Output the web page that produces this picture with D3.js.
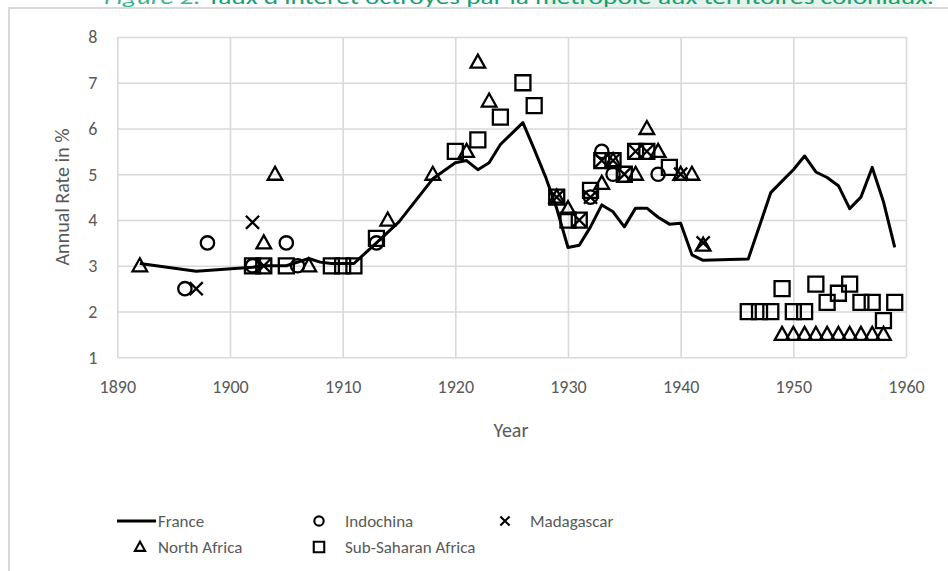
<!DOCTYPE html>
<html>
<head>
<meta charset="utf-8">
<script src="https://cdn.jsdelivr.net/npm/d3@7"></script>
<style>
body { margin: 0; background: #fff; }
svg { display: block; font-family: Carlito, Lato, sans-serif; }
</style>
</head>
<body>
<svg width="948" height="571"></svg>
<script>
var titleText = "Taux d'intérêt octroyés par la métropole aux territoires coloniaux.";

var xTicks = [1890, 1900, 1910, 1920, 1930, 1940, 1950, 1960];
var yTicks = [1, 2, 3, 4, 5, 6, 7, 8];

var franceYears = [1892, 1897, 1902, 1903, 1905, 1907, 1908, 1909, 1911, 1913, 1915, 1918, 1920, 1921, 1922, 1923, 1924, 1926,
    1927, 1928, 1929, 1930, 1931, 1932, 1933, 1934, 1935, 1936, 1937, 1938, 1939, 1940, 1941, 1942, 1946,
    1948, 1949, 1950, 1951, 1952, 1953, 1954, 1955, 1956, 1957, 1958, 1959];
var franceRates = [3.05, 2.88, 2.97, 3.0, 3.0, 3.16, 3.08, 3.05, 3.05, 3.5, 3.96, 4.9, 5.25, 5.3, 5.1, 5.25, 5.65, 6.13,
    5.55, 4.95, 4.25, 3.4, 3.45, 3.85, 4.33, 4.18, 3.85, 4.26, 4.26, 4.06, 3.91, 3.93, 3.24, 3.12, 3.15,
    4.6, 4.85, 5.1, 5.4, 5.05, 4.93, 4.75, 4.25, 4.5, 5.15, 4.4, 3.4];

var indochinaYears = [1896, 1898, 1902, 1905, 1906, 1913, 1932, 1933, 1934, 1938];
var indochinaRates = [2.5, 3.5, 3.0, 3.5, 3.0, 3.5, 4.5, 5.5, 5.0, 5.0];

var madagascarYears = [1897, 1902, 1903, 1929, 1931, 1932, 1933, 1934, 1935, 1936, 1937, 1940, 1942];
var madagascarRates = [2.5, 3.95, 3.0, 4.5, 4.0, 4.5, 5.3, 5.3, 5.0, 5.5, 5.5, 5.0, 3.5];

var northAfricaYears = [1892, 1903, 1904, 1907, 1914, 1918, 1921, 1922, 1923, 1929, 1930, 1933, 1934, 1936, 1937, 1938,
    1940, 1941, 1942, 1949, 1950, 1951, 1952, 1953, 1954, 1955, 1956, 1957, 1958];
var northAfricaRates = [3.0, 3.5, 5.0, 3.0, 4.0, 5.0, 5.5, 7.45, 6.6, 4.5, 4.25, 4.8, 5.3, 5.0, 6.0, 5.5,
    5.0, 5.0, 3.45, 1.5, 1.5, 1.5, 1.5, 1.5, 1.5, 1.5, 1.5, 1.5, 1.5];

var subSaharanYears = [1902, 1903, 1905, 1909, 1910, 1911, 1913, 1920, 1922, 1924, 1926, 1927, 1929, 1930, 1931, 1932,
    1933, 1934, 1935, 1936, 1937, 1939, 1946, 1947, 1948, 1949, 1950, 1951, 1952, 1953, 1954, 1955,
    1956, 1957, 1958, 1959];
var subSaharanRates = [3.0, 3.0, 3.0, 3.0, 3.0, 3.0, 3.6, 5.5, 5.75, 6.25, 7.0, 6.5, 4.5, 4.0, 4.0, 4.65,
    5.3, 5.3, 5.0, 5.5, 5.5, 5.15, 2.0, 2.0, 2.0, 2.5, 2.0, 2.0, 2.6, 2.2, 2.4, 2.6,
    2.2, 2.2, 1.8, 2.2];

var grey = '#595959';
var gridColor = '#d9d9d9';

var svg = d3.select('svg');

var x = d3.scaleLinear().domain([1890, 1960]).range([117.3, 906]);
var y = d3.scaleLinear().domain([1, 8]).range([357.3, 37]);

function zip(years, rates) {
    return years.map(function (d, i) { return { year: d, rate: rates[i] }; });
}

// clipped title strip on top
svg.append('rect')
    .attr('x', 547).attr('y', 0).attr('width', 382).attr('height', 7)
    .attr('fill', '#e6f3ed');
var title = svg.append('text')
    .attr('x', 104).attr('y', 4)
    .attr('textLength', 830)
    .attr('lengthAdjust', 'spacingAndGlyphs')
    .attr('font-size', 21)
    .attr('fill', '#16a070');
title.append('tspan').attr('font-style', 'italic').attr('fill', '#3bb58c').text('Figure 2: ');
title.append('tspan').text(titleText);

// chart border
svg.append('path')
    .attr('d', 'M9,571V8H948')
    .attr('fill', 'none')
    .attr('stroke', gridColor)
    .attr('stroke-width', 2);

// grid
svg.append('g')
    .attr('transform', 'translate(' + x.range()[0] + ',0)')
    .call(d3.axisLeft(y).tickValues(yTicks).tickSize(-(x.range()[1] - x.range()[0])).tickFormat(''))
    .call(function (g) { g.select('.domain').remove(); })
    .selectAll('line').attr('stroke', gridColor).attr('stroke-width', 1.6);

svg.append('g')
    .attr('transform', 'translate(0,' + y.range()[1] + ')')
    .call(d3.axisBottom(x).tickValues(xTicks).tickSize(y.range()[0] - y.range()[1]).tickFormat(''))
    .call(function (g) { g.select('.domain').remove(); })
    .selectAll('line').attr('stroke', gridColor).attr('stroke-width', 1.6);

// tick labels
var xAxis = svg.append('g')
    .attr('transform', 'translate(0,' + y.range()[0] + ')')
    .call(d3.axisBottom(x).tickValues(xTicks).tickSize(0).tickPadding(23).tickFormat(d3.format('d')));
xAxis.select('.domain').remove();
xAxis.selectAll('text').attr('fill', grey).attr('font-size', 18).attr('font-family', 'Carlito, Lato, sans-serif');

var yAxis = svg.append('g')
    .attr('transform', 'translate(' + x.range()[0] + ',0)')
    .call(d3.axisLeft(y).tickValues(yTicks).tickSize(0).tickPadding(20).tickFormat(d3.format('d')));
yAxis.select('.domain').remove();
yAxis.selectAll('text').attr('fill', grey).attr('font-size', 18).attr('font-family', 'Carlito, Lato, sans-serif');

svg.append('text')
    .attr('x', 511).attr('y', 437)
    .attr('text-anchor', 'middle')
    .attr('font-size', 20).attr('fill', grey)
    .text('Year');

svg.append('text')
    .attr('transform', 'translate(69,197) rotate(-90)')
    .attr('text-anchor', 'middle')
    .attr('font-size', 20).attr('fill', grey)
    .text('Annual Rate in %');

// France line
var line = d3.line()
    .x(function (d) { return x(d.year); })
    .y(function (d) { return y(d.rate); });

svg.append('path')
    .datum(zip(franceYears, franceRates))
    .attr('d', line)
    .attr('fill', 'none')
    .attr('stroke', '#000')
    .attr('stroke-width', 3)
    .attr('stroke-linejoin', 'round');

// markers
var shapes = {
    circle: d3.symbol().type(d3.symbolCircle).size(140)(),
    cross: d3.symbol().type(d3.symbolTimes).size(115)(),
    triangle: 'M0,-7.5L7.3,5.5L-7.3,5.5Z',
    square: 'M-7.5,-7.5H7.5V7.5H-7.5Z'
};

function drawMarkers(data, shape) {
    svg.append('g').selectAll('path')
        .data(data)
        .enter()
        .append('path')
        .attr('transform', function (d) { return 'translate(' + x(d.year) + ',' + y(d.rate) + ')'; })
        .attr('d', shapes[shape])
        .attr('fill', 'none')
        .attr('stroke', '#000')
        .attr('stroke-width', 2.3);
}

drawMarkers(zip(indochinaYears, indochinaRates), 'circle');
drawMarkers(zip(madagascarYears, madagascarRates), 'cross');
drawMarkers(zip(northAfricaYears, northAfricaRates), 'triangle');
drawMarkers(zip(subSaharanYears, subSaharanRates), 'square');

// legend
var legend = svg.append('g');
legend.append('line')
    .attr('x1', 117).attr('x2', 156).attr('y1', 521).attr('y2', 521)
    .attr('stroke', '#000').attr('stroke-width', 3);

var legendItems = [
    { name: 'France', shape: null, mx: 0, tx: 158, ty: 521 },
    { name: 'Indochina', shape: 'circle', mx: 319, tx: 345, ty: 521 },
    { name: 'Madagascar', shape: 'cross', mx: 505, tx: 530, ty: 521 },
    { name: 'North Africa', shape: 'triangle', mx: 140, tx: 158, ty: 547 },
    { name: 'Sub-Saharan Africa', shape: 'square', mx: 319, tx: 345, ty: 547 }
];

legendItems.forEach(function (d) {
    if (d.shape) {
        legend.append('path')
            .attr('transform', 'translate(' + d.mx + ',' + d.ty + ') scale(0.7)')
            .attr('d', shapes[d.shape])
            .attr('fill', 'none')
            .attr('stroke', '#000')
            .attr('stroke-width', 3);
    }
    legend.append('text')
        .attr('x', d.tx).attr('y', d.ty)
        .attr('dy', '0.35em')
        .attr('font-size', 17).attr('fill', grey)
        .text(d.name);
});
</script>
</body>
</html>
